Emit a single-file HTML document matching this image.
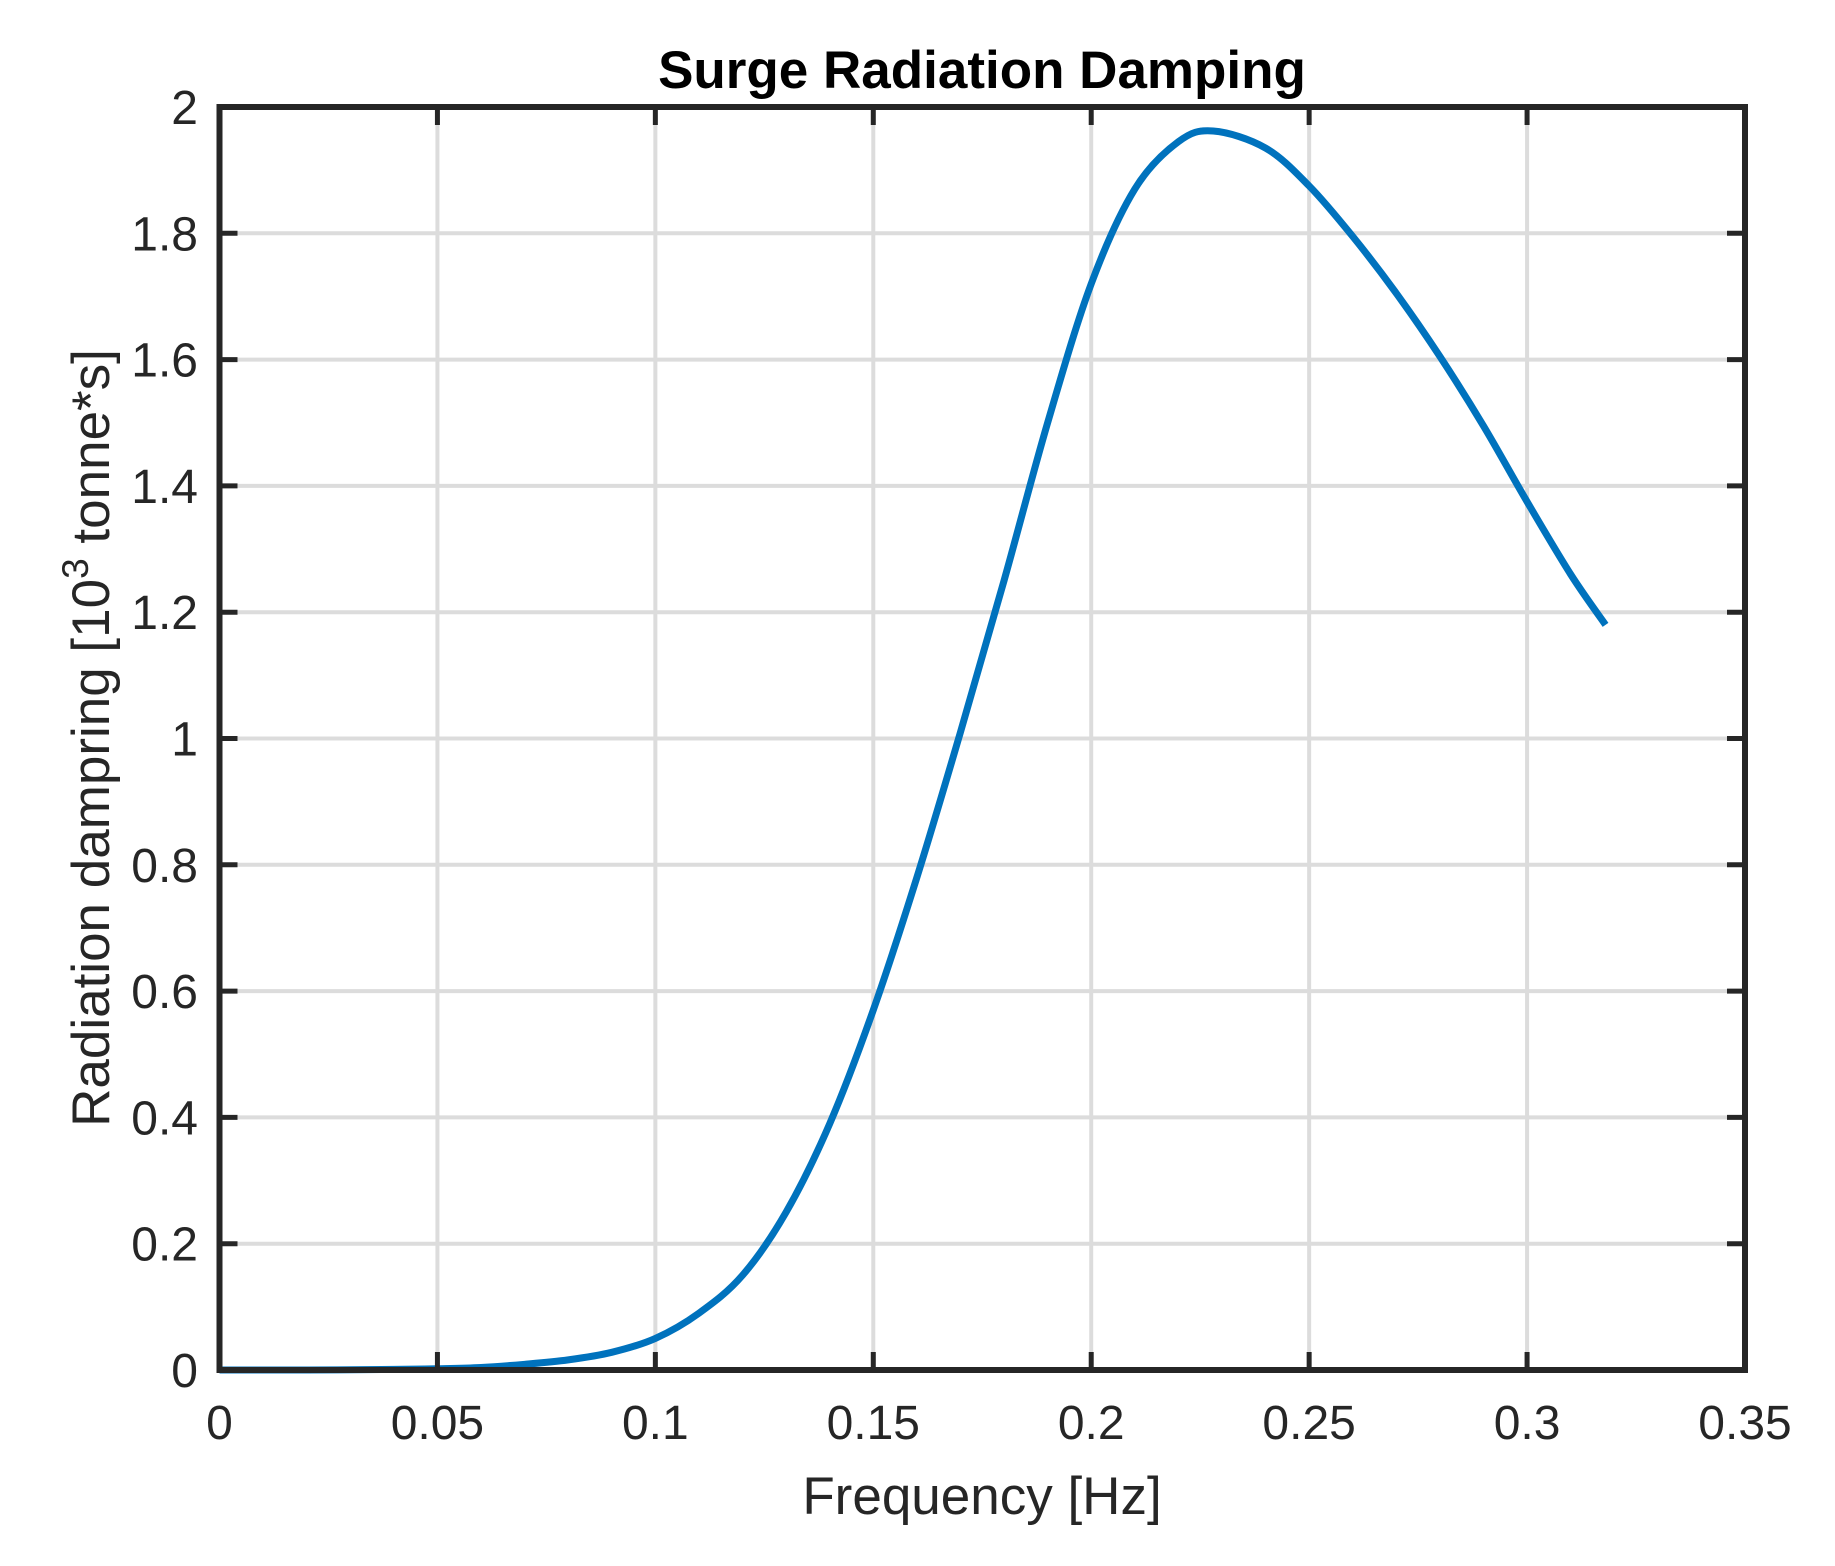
<!DOCTYPE html>
<html><head><meta charset="utf-8"><style>
html,body{margin:0;padding:0;background:#fff;}
svg{display:block;font-family:"Liberation Sans",Arial,sans-serif;}
</style></head><body>
<svg id="chart" width="1835" height="1566" viewBox="0 0 1835 1566" xmlns="http://www.w3.org/2000/svg">
<rect x="0" y="0" width="1835" height="1566" fill="#fff"/>
<g id="grid"></g>
<path id="series" fill="none" stroke="#0072BD" stroke-width="7" stroke-linejoin="round" stroke-linecap="butt"/>
<g id="axes"></g>
<text x="982" y="88" text-anchor="middle" font-size="53" font-weight="bold" fill="#000">Surge Radiation Damping</text>
<text x="982" y="1514" text-anchor="middle" font-size="53" fill="#262626">Frequency [Hz]</text>
<text transform="translate(109,738) rotate(-90)" text-anchor="middle" font-size="53" fill="#262626">Radiation dampring [10<tspan dy="-21" font-size="37">3</tspan><tspan dy="21"> tonne*s]</tspan></text>
</svg>
<script>
const freq = [0,0.02,0.04,0.05,0.06,0.07,0.08,0.09,0.1,0.11,0.12,0.13,0.14,0.15,0.16,0.17,0.18,0.19,0.2,0.21,0.22,0.228,0.24,0.25,0.26,0.27,0.28,0.29,0.3,0.31,0.318];
const damping = [0,0,0.001,0.002,0.004,0.009,0.016,0.028,0.05,0.09,0.15,0.25,0.39,0.57,0.78,1.01,1.25,1.5,1.72,1.87,1.945,1.962,1.935,1.875,1.795,1.705,1.605,1.495,1.375,1.26,1.18];
const xTicks = [0,0.05,0.1,0.15,0.2,0.25,0.3,0.35];
const xTickLabels = ["0","0.05","0.1","0.15","0.2","0.25","0.3","0.35"];
const yTicks = [0,0.2,0.4,0.6,0.8,1,1.2,1.4,1.6,1.8,2];
const yTickLabels = ["0","0.2","0.4","0.6","0.8","1","1.2","1.4","1.6","1.8","2"];

const L=219.5,R=1745,T=107,B=1370,XMAX=0.35,YMAX=2;
const sx=v=>L+v/XMAX*(R-L);
const sy=v=>B-v/YMAX*(B-T);
const NS="http://www.w3.org/2000/svg";
function mk(tag,attrs,parent){const e=document.createElementNS(NS,tag);for(const k in attrs)e.setAttribute(k,attrs[k]);parent.appendChild(e);return e;}
const grid=document.getElementById('grid'),axes=document.getElementById('axes');
xTicks.forEach((t,i)=>{
  const x=sx(t);
  if(t>0&&t<XMAX){const g=mk('line',{x1:x,x2:x,y1:T,y2:B,stroke:'#dcdcdc','stroke-width':4},grid);
  
  }
  const a=mk('line',{x1:x,x2:x,y1:B,y2:B-18,stroke:'#262626','stroke-width':5},axes);
  
  
  const b=mk('line',{x1:x,x2:x,y1:T,y2:T+18,stroke:'#262626','stroke-width':5},axes);
  
  
  const tx=mk('text',{x:x,y:1439,'text-anchor':'middle','font-size':48,fill:'#262626'},axes);
  tx.textContent=xTickLabels[i];
  
  
});
yTicks.forEach((t,i)=>{
  const y=sy(t);
  if(t>0&&t<YMAX){const g=mk('line',{x1:L,x2:R,y1:y,y2:y,stroke:'#dcdcdc','stroke-width':4},grid);
  
  }
  const a=mk('line',{x1:L,x2:L+18,y1:y,y2:y,stroke:'#262626','stroke-width':5},axes);
  
  
  const b=mk('line',{x1:R,x2:R-18,y1:y,y2:y,stroke:'#262626','stroke-width':5},axes);
  
  
  const tx=mk('text',{x:198,y:y+17,'text-anchor':'end','font-size':48,fill:'#262626'},axes);
  tx.textContent=yTickLabels[i];
  
  
});
const box=mk('rect',{x:L,y:T,width:R-L,height:B-T,fill:'none',stroke:'#262626','stroke-width':6},axes);


const pts=freq.map((f,i)=>[sx(f),sy(damping[i])]);
let d='M'+pts[0][0]+','+pts[0][1];
for(let i=0;i<pts.length-1;i++){
  const p0=pts[Math.max(0,i-1)],p1=pts[i],p2=pts[i+1],p3=pts[Math.min(pts.length-1,i+2)];
  const c1=[p1[0]+(p2[0]-p0[0])/6,p1[1]+(p2[1]-p0[1])/6];
  const c2=[p2[0]-(p3[0]-p1[0])/6,p2[1]-(p3[1]-p1[1])/6];
  d+=' C'+c1[0]+','+c1[1]+' '+c2[0]+','+c2[1]+' '+p2[0]+','+p2[1];
}
document.getElementById('series').setAttribute('d',d);
</script>
</body></html>
